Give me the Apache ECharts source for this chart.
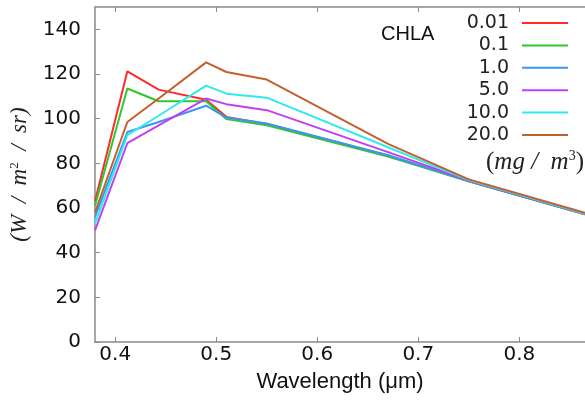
<!DOCTYPE html>
<html>
<head>
<meta charset="utf-8">
<script src="https://cdn.jsdelivr.net/npm/echarts@6/dist/echarts.min.js"></script>
<style>html,body{margin:0;padding:0;background:#fff}#c{width:585px;height:403px}</style>
</head>
<body>
<div id="c"></div>
<script>
// Wavelength (µm)
const wavelengths = [0.38, 0.412, 0.443, 0.49, 0.51, 0.55, 0.67, 0.75, 0.865];
// CHLA concentration labels (mg/m^3)
const seriesNames = ['0.01', '0.1', '1.0', '5.0', '10.0', '20.0'];
// Radiance values (W/m^2/sr)
const chla001 = [63, 121.2, 113, 108.5, 100.8, 97.6, 83.5, 72.0, 57.2];
const chla01  = [61, 113.5, 107.8, 107.8, 99.8, 97.0, 83.0, 72.0, 57.2];
const chla1   = [56, 94.0, 98.5, 105.8, 100.5, 97.8, 83.6, 72.1, 57.3];
const chla5   = [50, 89.0, 97.0, 109.0, 106.5, 103.8, 85.0, 72.3, 57.4];
const chla10  = [53, 92.6, 101.3, 114.8, 111.2, 109.4, 87.2, 72.5, 57.5];
const chla20  = [58, 98.5, 109.0, 125.2, 120.9, 117.5, 88.7, 72.8, 57.8];
const xTicks = [0.4, 0.5, 0.6, 0.7, 0.8];

const allValues = [chla001, chla01, chla1, chla5, chla10, chla20];
const colors = ['#ff2a2a', '#2ec82e', '#3a96f5', '#c040f0', '#30eaea', '#c2602e'];

const chart = echarts.init(document.getElementById('c'));
const axisGray = '#8a8a8a';
chart.setOption({
  animation: false,
  backgroundColor: '#fff',
  grid: { left: 95, top: 7, right: 0, bottom: 61, containLabel: false },
  legend: {
    orient: 'vertical',
    right: 12,
    top: 8,
    align: 'right',
    icon: 'rect',
    itemWidth: 46,
    itemHeight: 2,
    itemGap: 2.4,
    textStyle: { fontFamily: 'DejaVu Sans', fontSize: 19, color: '#222', lineHeight: 20, padding: [0, 8, 0, 0] },
    data: seriesNames
  },
  graphic: [
    { type: 'text', left: 381, top: 24, style: { text: 'CHLA', fontFamily: 'Liberation Sans', fontSize: 20, fill: '#111' } },
    { type: 'text', left: 486, top: 149, style: {
        text: '{a|(}{b|mg /  m}{s|3}{a|)}',
        rich: {
          a: { fontFamily: 'Liberation Serif', fontSize: 25, fill: '#222' },
          b: { fontFamily: 'Liberation Serif', fontStyle: 'italic', fontSize: 25, fill: '#222' },
          s: { fontFamily: 'Liberation Serif', fontSize: 14, fill: '#222', verticalAlign: 'top', padding: [0, 0, 12, 0] }
        }
      } }
  ],
  xAxis: [{
    type: 'value',
    min: 0.38, max: 0.865,
    name: 'Wavelength (μm)',
    nameLocation: 'middle',
    nameGap: 29,
    nameTextStyle: { fontFamily: 'Liberation Sans', fontSize: 22, color: '#111' },
    axisLine: { show: true, lineStyle: { color: axisGray, width: 1.5 } },
    axisTick: { show: true, inside: true, length: 5, customValues: xTicks, lineStyle: { color: axisGray } },
    axisLabel: { customValues: xTicks, margin: 3, fontFamily: 'DejaVu Sans', fontSize: 20, color: '#111', formatter: v => v.toFixed(1) },
    splitLine: { show: false }
  }, {
    type: 'value',
    position: 'top',
    min: 0.38, max: 0.865,
    axisLine: { show: true, onZero: false, lineStyle: { color: axisGray, width: 1.5 } },
    axisTick: { show: true, inside: true, length: 5, customValues: xTicks, lineStyle: { color: axisGray } },
    axisLabel: { show: false },
    splitLine: { show: false }
  }],
  yAxis: {
    type: 'value',
    min: 0, max: 150, interval: 20,
    name: '{i|(W  /  m}{s|2}{i|  /  sr)}',
    nameLocation: 'middle',
    nameRotate: 90,
    nameGap: 58,
    nameTextStyle: {
      rich: {
        i: { fontFamily: 'Liberation Serif', fontStyle: 'italic', fontSize: 23, color: '#222' },
        s: { fontFamily: 'Liberation Serif', fontSize: 13, color: '#222', verticalAlign: 'top', padding: [0, 0, 11, 0] }
      }
    },
    axisLine: { show: true, lineStyle: { color: axisGray, width: 1.5 } },
    axisTick: { show: true, inside: true, length: 5, lineStyle: { color: axisGray } },
    axisLabel: { showMaxLabel: false, margin: 14, fontFamily: 'DejaVu Sans', fontSize: 20, color: '#111' },
    splitLine: { show: false }
  },
  series: seriesNames.map((n, i) => ({
    name: n,
    type: 'line',
    xAxisIndex: 0,
    data: wavelengths.map((w, j) => [w, allValues[i][j]]),
    showSymbol: false,
    symbol: 'none',
    lineStyle: { width: 2, color: colors[i] },
    itemStyle: { color: colors[i] }
  }))
});
</script>
</body>
</html>
